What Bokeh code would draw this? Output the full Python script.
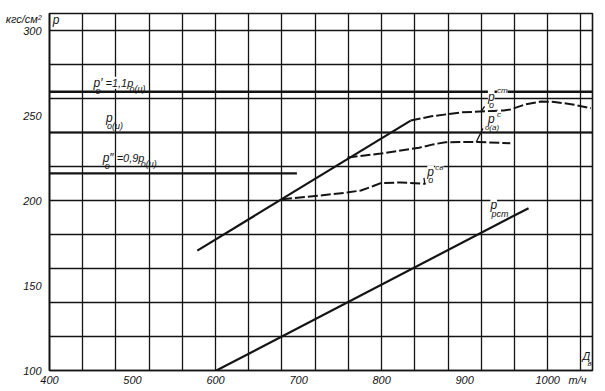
import numpy as np
from bokeh.plotting import figure
from bokeh.models import Range1d, FixedTicker, Label
from bokeh.embed import file_html
from bokeh.resources import INLINE

# ---------------- data ----------------
x_ticks = [400, 500, 600, 700, 800, 900, 1000]
y_ticks = [100, 150, 200, 250, 300]
x_grid = list(range(400, 1041, 40))
y_grid = list(range(100, 301, 20))
x_unit_pos = 1036          # position of unit text "т/ч" on x axis
y_unit_pos = 307           # position of unit text on y axis

p_ou = 240                 # p_o(u)
p_hi = 264                 # 1,1 p_o(u)
p_lo = 216                 # 0,9 p_o(u)
p_lo_end = 698             # end of 0,9 p_o(u) line

char_x = [578, 835]        # solid rising characteristic
char_y = [170.5, 247]

st_x = [835, 860, 895, 947, 955, 973, 992, 1008, 1030, 1052]       # p_o^ст
st_y = [247, 249.5, 251.8, 253, 253.5, 256.5, 258.2, 258.0, 256.5, 254.3]

ca_x = [759, 799, 823, 845, 862, 877, 916, 955]                    # p^c_o(a)
ca_y = [225.3, 227.6, 229.4, 231.0, 233.0, 234.3, 234.4, 233.7]

sv_x = [680, 726, 760, 775, 790, 799, 823, 853]                    # p_o^св
sv_y = [200.8, 202.9, 204.8, 205.9, 208.5, 210.2, 210.6, 209.8]

rst_x = [601, 977]                                                 # p_рст
rst_y = [100, 195.5]

# ---------------- figure ----------------
INK = "#141414"
FONT = "Liberation Sans"

p = figure(width=605, height=391, output_backend="svg", toolbar_location=None,
           x_range=Range1d(400, 1054), y_range=Range1d(100, 310),
           min_border_left=49, min_border_right=13, min_border_top=13, min_border_bottom=21)
p.background_fill_color = "white"
p.border_fill_color = "white"
p.outline_line_color = INK
p.outline_line_width = 1.6

for g, t in ((p.xgrid, x_grid), (p.ygrid, y_grid)):
    g.ticker = FixedTicker(ticks=t)
    g.grid_line_color = INK
    g.grid_line_width = 1.3
    g.grid_line_alpha = 1.0

p.xaxis.ticker = FixedTicker(ticks=x_ticks + [x_unit_pos])
p.xaxis.major_label_overrides = {x_unit_pos: "т/ч"}
p.yaxis.ticker = FixedTicker(ticks=y_ticks + [y_unit_pos])
p.yaxis.major_label_overrides = {y_unit_pos: "кгс/см²"}
for ax in (p.xaxis[0], p.yaxis[0]):
    ax.major_tick_in = 0
    ax.major_tick_out = 0
    ax.minor_tick_in = 0
    ax.minor_tick_out = 0
    ax.axis_line_color = INK
    ax.axis_line_width = 1.6
    ax.major_label_text_font = FONT
    ax.major_label_text_font_style = "italic"
    ax.major_label_text_font_size = "11px"
    ax.major_label_text_color = INK
p.xaxis.major_label_standoff = 3
p.yaxis.major_label_standoff = 8

# horizontal reference lines
p.line([400, 1054], [p_hi, p_hi], line_color=INK, line_width=2.6)
p.line([400, 1054], [p_ou, p_ou], line_color=INK, line_width=2.2)
p.line([400, p_lo_end], [p_lo, p_lo], line_color=INK, line_width=2.2)

# curves
p.line(char_x, char_y, line_color=INK, line_width=2.2)
p.line(rst_x, rst_y, line_color=INK, line_width=2.2)
p.line(st_x, st_y, line_color=INK, line_width=2.0, line_dash="10 3")
p.line(ca_x, ca_y, line_color=INK, line_width=2.0, line_dash="10 3")
p.line(sv_x, sv_y, line_color=INK, line_width=2.0, line_dash="10 3")

# leader strokes from labels to curves
lx = [920, 914, 852]
ly_end = [float(np.interp(920, st_x, st_y)), float(np.interp(914, ca_x, ca_y)),
          float(np.interp(852, sv_x, sv_y))]
ly_start = [ly_end[0] + 3.0, ly_end[1] + 8.0, ly_end[2] + 3.5]
lx_start = [924, 922, 851]
p.segment(x0=lx_start, y0=ly_start, x1=lx, y1=ly_end, line_color=INK, line_width=1.3)


def txt(x, y, s, dx=0, dy=0, size=12, bg=False):
    p.add_layout(Label(x=x, y=y, x_offset=dx, y_offset=dy, text=s,
                       text_font=FONT, text_font_style="italic",
                       text_font_size=f"{size}px", text_color=INK,
                       text_baseline="middle", text_align="left",
                       background_fill_color="white" if bg else None))


# "p" at top-left corner
txt(404, 306, "p", size=12)

# p'_o = 1,1 p_o(u)
ax_, ay_ = 453, 269.3
txt(ax_, ay_, "p′", size=12, bg=True)
txt(ax_, ay_, "=1,1p", dx=12, size=11, bg=True)
txt(ax_, ay_, "o", dx=2, dy=-8, size=9)
txt(ax_, ay_, "o(u)", dx=36, dy=-6, size=9)

# p_o(u)
bx, by = 468, 248.5
txt(bx, by, "p", size=12, bg=True)
txt(bx, by, "o(u)", dx=1, dy=-8, size=9)

# p''_o = 0,9 p_o(u)
cx, cy = 464, 225
txt(cx, cy, "p″", size=12, bg=True)
txt(cx, cy, "=0,9p", dx=14, size=11, bg=True)
txt(cx, cy, "o", dx=2, dy=-8, size=9)
txt(cx, cy, "o(u)", dx=38, dy=-6, size=9)

# p_o^ст
dx_, dy_ = 928, 261
txt(dx_, dy_, "p", size=12, bg=True)
txt(dx_, dy_, "ст", dx=9, dy=6, size=8, bg=True)
txt(dx_, dy_, "o", dx=1, dy=-8, size=9)

# p^c_o(a)
ex, ey = 928, 248
txt(ex, ey, "p", size=12, bg=True)
txt(ex, ey, "c", dx=9, dy=4, size=8, bg=True)
txt(ex, ey, "o(a)", dx=-3, dy=-9, size=8)

# p_o^св
fx, fy = 855, 216.5
txt(fx, fy, "p", size=12, bg=True)
txt(fx, fy, "св", dx=8, dy=5, size=8, bg=True)
txt(fx, fy, "o", dx=1, dy=-8, size=9)

# p_рст
gx, gy = 931, 197.5
txt(gx, gy, "p", size=12, bg=True)
txt(gx, gy, "рст", dx=1, dy=-9, size=9)

# Д_в
hx, hy = 1042, 108.5
txt(hx, hy, "Д", size=11, bg=True)
txt(hx, hy, "в", dx=5, dy=-7, size=8)

open("out.html", "w").write(file_html(p, INLINE))
